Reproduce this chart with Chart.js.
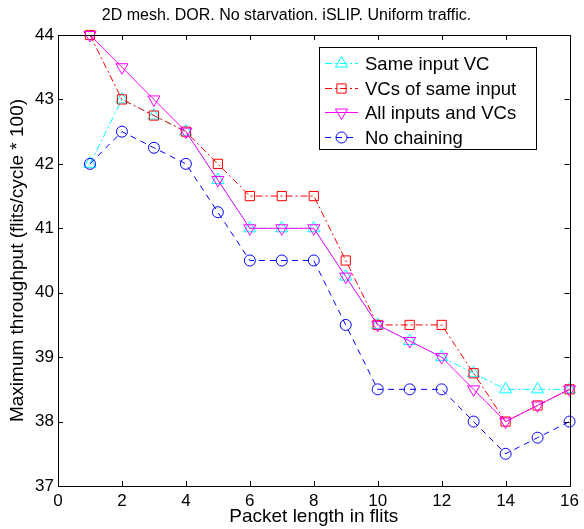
<!DOCTYPE html>
<html>
<head>
<meta charset="utf-8">
<script src="https://cdn.jsdelivr.net/npm/chart.js@4.4.1/dist/chart.umd.min.js"></script>
<style>
  html, body { margin: 0; padding: 0; background: #fff; }
  #wrap { width: 584px; height: 529px; }
</style>
</head>
<body>
<div id="wrap"><canvas id="chart" width="584" height="529"></canvas></div>
<script>
// packet length (flits) on x, max throughput (flits/cycle * 100) on y
const packetLengths = [1, 2, 3, 4, 5, 6, 7, 8, 9, 10, 11, 12, 13, 14, 15, 16];
const sameInputVC    = [42, 43, 42.75, 42.5, 41.75, 41, 41, 41, 40.25, 39.5, 39.25, 39, 38.75, 38.5, 38.5, 38.5];
const vcsOfSameInput = [44, 43, 42.75, 42.5, 42, 41.5, 41.5, 41.5, 40.5, 39.5, 39.5, 39.5, 38.75, 38, 38.25, 38.5];
const allInputsVCs   = [44, 43.5, 43, 42.5, 41.75, 41, 41, 41, 40.25, 39.5, 39.25, 39, 38.5, 38, 38.25, 38.5];
const noChaining     = [42, 42.5, 42.25, 42, 41.25, 40.5, 40.5, 40.5, 39.5, 38.5, 38.5, 38.5, 38, 37.5, 37.75, 38];

const xTicks = [0, 2, 4, 6, 8, 10, 12, 14, 16];
const yTicks = [37, 38, 39, 40, 41, 42, 43, 44];

const FONT = "'Liberation Sans', Arial, Helvetica, sans-serif";

function series(label, values, color, dash, style, radius, rotation, order) {
  return {
    label,
    data: packetLengths.map((x, i) => ({ x, y: values[i] })),
    borderColor: color,
    borderWidth: 1,
    borderDash: dash,
    pointStyle: style,
    pointRadius: radius,
    pointRotation: rotation,
    pointBorderColor: color,
    pointBorderWidth: 1,
    pointBackgroundColor: 'rgba(0,0,0,0)',
    tension: 0,
    clip: false,
    order
  };
}

// box round the plot + inward tick marks on all four sides
const framePlugin = {
  id: 'frame',
  afterDraw(chart) {
    const { ctx, chartArea: a, scales: { x, y } } = chart;
    ctx.save();
    ctx.strokeStyle = '#000';
    ctx.lineWidth = 1;
    ctx.beginPath();
    ctx.rect(Math.round(a.left) + 0.5, Math.round(a.top) + 0.5,
             Math.round(a.right - a.left), Math.round(a.bottom - a.top));
    ctx.stroke();
    ctx.beginPath();
    const len = 5;
    xTicks.forEach(v => {
      const px = Math.round(x.getPixelForValue(v)) + 0.5;
      ctx.moveTo(px, a.bottom); ctx.lineTo(px, a.bottom - len);
      ctx.moveTo(px, a.top); ctx.lineTo(px, a.top + len);
    });
    yTicks.forEach(v => {
      const py = Math.round(y.getPixelForValue(v)) + 0.5;
      ctx.moveTo(a.left, py); ctx.lineTo(a.left + len, py);
      ctx.moveTo(a.right, py); ctx.lineTo(a.right - len, py);
    });
    ctx.stroke();
    ctx.restore();
  }
};

// legend box in the upper right, line sample + marker per series
const boxLegendPlugin = {
  id: 'boxLegend',
  afterDraw(chart) {
    const { ctx } = chart;
    const left = 319, top = 47, width = 217, height = 102;
    const rowH = 24.7, firstRow = 63;
    ctx.save();
    ctx.fillStyle = '#fff';
    ctx.fillRect(left, top, width, height);
    ctx.strokeStyle = '#000';
    ctx.lineWidth = 1;
    ctx.strokeRect(left + 0.5, top + 0.5, width, height);
    chart.data.datasets.forEach((ds, i) => {
      const yy = Math.round(firstRow + i * rowH) + 0.5;
      ctx.strokeStyle = ds.borderColor;
      ctx.lineWidth = ds.borderWidth;
      ctx.setLineDash(ds.borderDash || []);
      ctx.beginPath();
      ctx.moveTo(325, yy);
      ctx.lineTo(358, yy);
      ctx.stroke();
      ctx.setLineDash([]);
      ctx.fillStyle = ds.pointBackgroundColor;
      Chart.helpers.drawPoint(ctx, {
        pointStyle: ds.pointStyle,
        radius: ds.pointRadius,
        rotation: ds.pointRotation,
        borderWidth: ds.pointBorderWidth
      }, 341.5, yy);
      ctx.fillStyle = '#000';
      ctx.font = '18.5px ' + FONT;
      ctx.textAlign = 'left';
      ctx.textBaseline = 'middle';
      ctx.fillText(ds.label, 365, yy + 1);
    });
    ctx.restore();
  }
};

new Chart(document.getElementById('chart'), {
  type: 'line',
  data: {
    datasets: [
      series('Same input VC', sameInputVC, '#00ffff', [7, 3, 2, 3], 'triangle', 7, 0, 4),
      series('VCs of same input', vcsOfSameInput, '#ff0000', [7, 3, 2, 3], 'rect', 6.5, 0, 3),
      series('All inputs and VCs', allInputsVCs, '#ff00ff', [], 'triangle', 7, 180, 2),
      series('No chaining', noChaining, '#0000ff', [6, 5], 'circle', 5.5, 0, 1)
    ]
  },
  options: {
    responsive: false,
    animation: false,
    layout: { padding: { left: 0, right: 11, top: 0, bottom: 0 } },
    plugins: {
      legend: { display: false },
      tooltip: { enabled: false },
      title: {
        display: true,
        text: '2D mesh. DOR. No starvation. iSLIP. Uniform traffic.',
        color: '#000',
        font: { family: FONT, size: 16, weight: 'normal' },
        padding: { top: 6, bottom: 9.8 }
      }
    },
    scales: {
      x: {
        type: 'linear',
        min: 0,
        max: 16,
        afterFit: s => { s.height = 43; },
        afterBuildTicks: s => { s.ticks = xTicks.map(v => ({ value: v })); },
        grid: { display: false, drawTicks: false },
        border: { display: false },
        ticks: { color: '#000', padding: 5, font: { family: FONT, size: 17 }, maxRotation: 0 },
        title: {
          display: true,
          text: 'Packet length in flits',
          color: '#000',
          font: { family: FONT, size: 19 },
          padding: { top: 0, bottom: 0.5 }
        }
      },
      y: {
        min: 37,
        max: 44,
        afterFit: s => { s.width = 58; },
        afterBuildTicks: s => { s.ticks = yTicks.map(v => ({ value: v })); },
        grid: { display: false, drawTicks: false },
        border: { display: false },
        ticks: { color: '#000', padding: 4, font: { family: FONT, size: 17 } },
        title: {
          display: true,
          text: 'Maximum throughput (flits/cycle * 100)',
          color: '#000',
          font: { family: FONT, size: 19 },
          padding: { top: 6, bottom: 0 }
        }
      }
    }
  },
  plugins: [framePlugin, boxLegendPlugin]
});
</script>
</body>
</html>
